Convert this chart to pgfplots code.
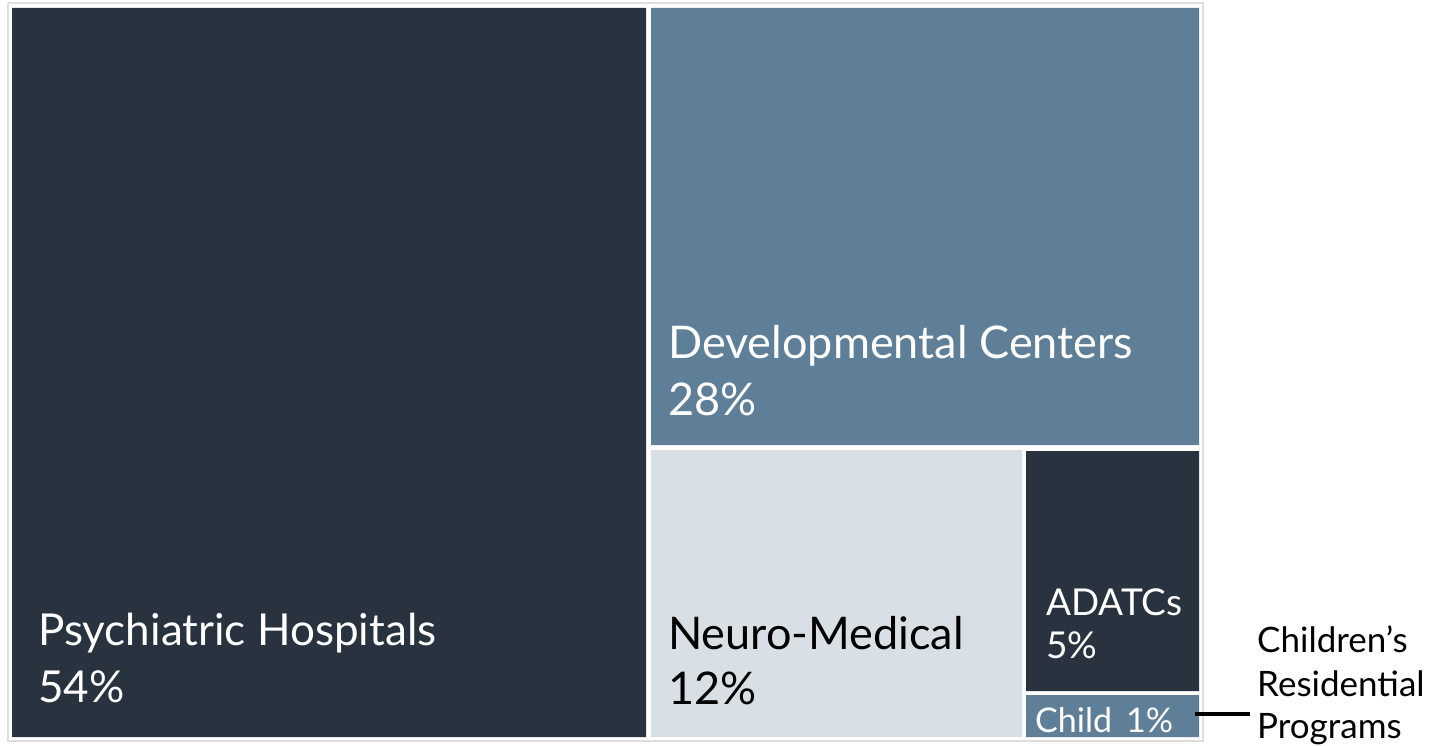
\documentclass[border=0pt]{standalone}
\usepackage{pgfplots}
\pgfplotsset{compat=1.18}
\usepackage{fontspec}
\setmainfont{Lato}
\definecolor{cdark}{HTML}{29333F}
\definecolor{cblue}{HTML}{5F7F99}
\definecolor{clight}{HTML}{D8DFE5}
\definecolor{cframe}{HTML}{DEDEDE}
\begin{document}
\begin{tikzpicture}
\begin{axis}[at={(0,0)}, anchor=south west, scale only axis,
  width=1439bp, height=746bp, xmin=0, xmax=1439, ymin=0, ymax=746,
  y dir=reverse, hide axis, clip=false]
% outer frame
\addplot[draw=cframe, line width=2bp, fill=white] coordinates {(8,3) (1203,3) (1203,741) (8,741) (8,3)};
% Psychiatric Hospitals 54%
\addplot[draw=none, fill=cdark] coordinates {(12,8) (646,8) (646,737) (12,737) (12,8)};
% Developmental Centers 28%
\addplot[draw=none, fill=cblue] coordinates {(651,8) (1199,8) (1199,445) (651,445) (651,8)};
% Neuro-Medical 12%
\addplot[draw=none, fill=clight] coordinates {(651,450) (1022,450) (1022,737) (651,737) (651,450)};
% ADATCs 5%
\addplot[draw=none, fill=cdark] coordinates {(1026,451) (1199,451) (1199,691) (1026,691) (1026,451)};
% Children's Residential Programs 1%
\addplot[draw=none, fill=cblue] coordinates {(1026,695) (1199,695) (1199,737) (1026,737) (1026,695)};
% callout line
\addplot[draw=black, line width=3.5bp] coordinates {(1195,714) (1250,714)};

\node[anchor=base west, text=white, inner sep=0pt, font=\fontsize{44bp}{50bp}\selectfont] at (axis cs:38,645) {Psychiatric Hospitals};
\node[anchor=base west, text=white, inner sep=0pt, font=\fontsize{44bp}{50bp}\selectfont] at (axis cs:38,702) {54\%};
\node[anchor=base west, text=white, inner sep=0pt, font=\fontsize{45bp}{50bp}\selectfont] at (axis cs:668,358) {Developmental Centers};
\node[anchor=base west, text=white, inner sep=0pt, font=\fontsize{45bp}{50bp}\selectfont] at (axis cs:668,415) {28\%};
\node[anchor=base west, text=black, inner sep=0pt, font=\fontsize{45bp}{50bp}\selectfont] at (axis cs:668,649) {Neuro-Medical};
\node[anchor=base west, text=black, inner sep=0pt, font=\fontsize{45bp}{50bp}\selectfont] at (axis cs:668,704) {12\%};
\node[anchor=base west, text=white, inner sep=0pt, font=\fontsize{37bp}{40bp}\selectfont] at (axis cs:1046,615) {ADATCs};
\node[anchor=base west, text=white, inner sep=0pt, font=\fontsize{37bp}{40bp}\selectfont] at (axis cs:1046,658) {5\%};
\node[anchor=base west, text=white, inner sep=0pt, font=\fontsize{34bp}{40bp}\selectfont] at (axis cs:1035,732) {Child\hspace{14bp}1\%};
\node[anchor=base west, text=black, inner sep=0pt, font=\fontsize{35bp}{40bp}\selectfont] at (axis cs:1257,652) {Children’s};
\node[anchor=base west, text=black, inner sep=0pt, font=\fontsize{35bp}{40bp}\selectfont] at (axis cs:1257,696) {Residential};
\node[anchor=base west, text=black, inner sep=0pt, font=\fontsize{35bp}{40bp}\selectfont] at (axis cs:1257,738) {Programs};
\end{axis}
\pgfresetboundingbox
\useasboundingbox (0,0) rectangle (1439bp,746bp);
\end{tikzpicture}
\end{document}
